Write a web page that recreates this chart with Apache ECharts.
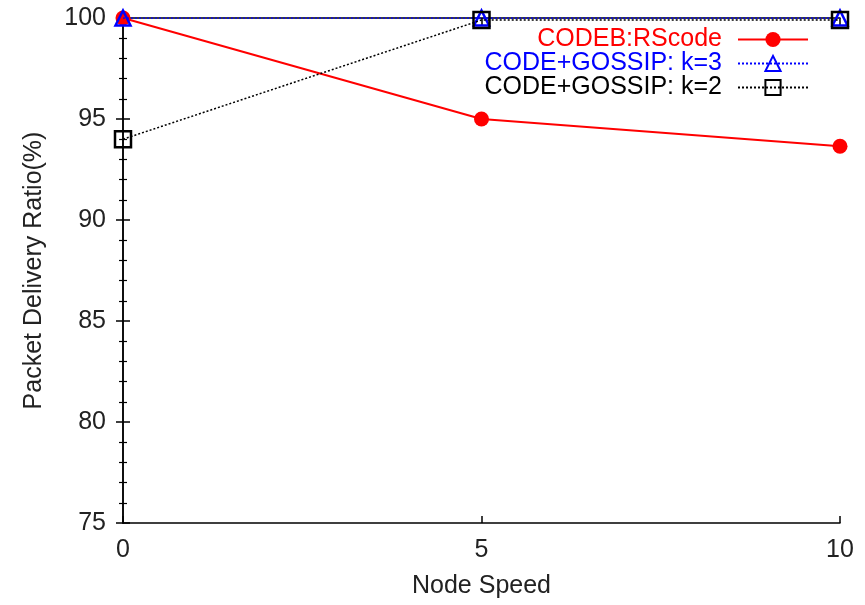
<!DOCTYPE html>
<html><head><meta charset="utf-8">
<script src="https://cdn.jsdelivr.net/npm/echarts@6/dist/echarts.min.js"></script>
<style>html,body{margin:0;padding:0;background:#fff}#c{width:865px;height:605px}</style>
</head><body><div id="c"></div>
<script>
const xValues = [0, 5, 10];
const rsCode = [100, 95.0, 93.65];
const gossipK3 = [100, 100, 100];
const gossipK2 = [94.0, 99.9, 99.9];
const seriesNames = ['CODEB:RScode', 'CODE+GOSSIP: k=3', 'CODE+GOSSIP: k=2'];
const yTicks = [75, 80, 85, 90, 95, 100];

const font = 'Liberation Sans, Arial, sans-serif';
const fs = 25;
const chart = echarts.init(document.getElementById('c'));
const pairs = a => xValues.map((x, i) => [x, a[i]]);
const axisBase = {
  axisLine: {show: true, lineStyle: {color: '#000', width: 1.5}},
  splitLine: {show: false},
};
chart.setOption({
  animation: false,
  backgroundColor: '#fff',
  grid: {left: 123, right: 25, top: 18, bottom: 82, containLabel: false},
  legend: {
    orient: 'vertical', align: 'right', right: 51, top: 22,
    itemWidth: 70, itemHeight: 19, itemGap: -1,
    textStyle: {fontFamily: font, fontSize: fs, lineHeight: 20, padding: [0, 11, 0, 0]},
    data: [
      {name: seriesNames[0], textStyle: {color: '#ff0000'}},
      {name: seriesNames[1], textStyle: {color: '#0000ff'}},
      {name: seriesNames[2], textStyle: {color: '#000000'}}
    ]
  },
  xAxis: [
    Object.assign({}, axisBase, {
      type: 'value', min: 0, max: 10, interval: 5, position: 'bottom',
      name: 'Node Speed', nameLocation: 'middle', nameGap: 51,
      nameTextStyle: {fontFamily: font, fontSize: fs, color: '#222'},
      axisTick: {show: true, inside: true, length: 7, lineStyle: {color: '#000', width: 1.5}},
      axisLabel: {fontFamily: font, fontSize: fs, color: '#222', margin: 15}
    }),
    Object.assign({}, axisBase, {
      type: 'value', min: 0, max: 10, interval: 5, position: 'top',
      axisTick: {show: true, inside: true, length: 7, lineStyle: {color: '#000', width: 1.5}},
      axisLabel: {show: false}
    })
  ],
  yAxis: [
    Object.assign({}, axisBase, {
      type: 'value', min: 75, max: 100, interval: 5, position: 'left',
      name: 'Packet Delivery Ratio(%)', nameLocation: 'middle', nameGap: 76,
      nameTextStyle: {fontFamily: font, fontSize: fs, color: '#222'},
      axisTick: {show: true, inside: true, length: 7, lineStyle: {color: '#000', width: 1.5}},
      minorTick: {show: true, splitNumber: 5, length: 4, lineStyle: {color: '#000', width: 1.2}},
      axisLabel: {fontFamily: font, fontSize: fs, color: '#222', margin: 17,
        formatter: v => yTicks.includes(v) ? String(v) : ''}
    }),
    Object.assign({}, axisBase, {
      type: 'value', min: 75, max: 100, interval: 5, position: 'right',
      axisTick: {show: true, inside: true, length: 7, lineStyle: {color: '#000', width: 1.5}},
      minorTick: {show: true, splitNumber: 5, length: 4, lineStyle: {color: '#000', width: 1.2}},
      axisLabel: {show: false}
    })
  ],
  series: [
    {
      name: seriesNames[0], type: 'line', data: pairs(rsCode),
      symbol: 'circle', symbolSize: 15,
      lineStyle: {color: '#ff0000', width: 2},
      itemStyle: {color: '#ff0000'}, z: 2
    },
    {
      name: seriesNames[1], type: 'line', data: pairs(gossipK3),
      symbol: 'triangle', symbolSize: 15,
      lineStyle: {color: '#0000ff', width: 1.5, type: [2, 2]},
      itemStyle: {color: 'rgba(0,0,0,0)', borderColor: '#0000ff', borderWidth: 2.5}, z: 3
    },
    {
      name: seriesNames[2], type: 'line', data: pairs(gossipK2),
      symbol: 'rect', symbolSize: 16,
      lineStyle: {color: '#000', width: 1.5, type: [2, 2]},
      itemStyle: {color: 'rgba(0,0,0,0)', borderColor: '#000', borderWidth: 2.5}, z: 4
    }
  ]
});
</script></body></html>
